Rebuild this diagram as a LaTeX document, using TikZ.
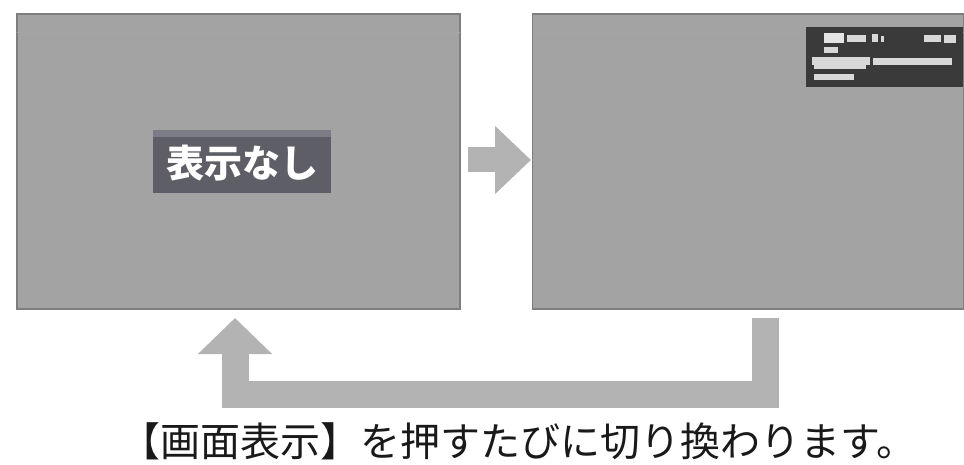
\documentclass[tikz,border=0pt]{standalone}
\usepackage{fontspec}
\setmainfont{Noto Sans CJK JP}
\usetikzlibrary{arrows.meta}
\definecolor{scrfill}{HTML}{A3A3A3}
\definecolor{scrline}{HTML}{7E7E7E}
\definecolor{arrowgray}{HTML}{B3B3B3}
\definecolor{labelbg}{HTML}{5E5E66}
\definecolor{labeltop}{HTML}{7C7C86}
\definecolor{osdbg}{HTML}{3A3A3A}
\definecolor{osdtxt}{HTML}{D8D8D8}
\tikzset{
  screen/.style={draw=scrline, fill=scrfill, line width=1.6pt, inner sep=0pt, outer sep=0pt, rectangle},
  bandline/.style={draw=scrline!70, line width=0.8pt},
  bigarrow/.style={draw=arrowgray, line join=miter, line cap=butt},
  osdbar/.style={fill=osdtxt},
}
\begin{document}
\begin{tikzpicture}[x=1pt,y=-1pt]
\useasboundingbox (0,0) rectangle (964,465);
% screens
\node[screen, minimum width=443pt, minimum height=295pt] (L) at (238.5,161.5) {};
\node[screen, minimum width=431pt, minimum height=295pt] (R) at (748,161.5) {};
\draw[bandline] ([yshift=-18pt]L.north west) -- ([yshift=-18pt]L.north east);
\draw[bandline] ([yshift=-18pt]R.north west) -- ([yshift=-18pt]R.north east);
% label on left screen
\node[fill=labelbg, minimum width=178pt, minimum height=63pt, inner sep=0pt] (lab) at (242,161.5) {};
\fill[labeltop] (lab.north west) rectangle ([yshift=-7pt]lab.north east);
\node[text=white, font=\fontsize{38}{38}\selectfont\bfseries, inner sep=0pt] (labtxt) at (242,163) {表示なし};
% OSD on right screen
\node[fill=osdbg, minimum width=157pt, minimum height=60pt, inner sep=0pt, anchor=north east] (osd) at ([yshift=-13pt]R.north east) {};
\coordinate (o) at (osd.north west);
\begin{scope}[shift={(o)}]
  \fill[osdtxt!70] (18,6) rectangle (38,16);
  \fill[osdbar] (41,8) rectangle (60,15);
  \fill[osdbar] (66,7) rectangle (72,15);
  \fill[osdbar] (75,9) rectangle (78,15);
  \fill[osdbar] (118,8) rectangle (135,15);
  \fill[osdbar] (138,8) rectangle (150,16);
  \fill[osdbar] (18,20) rectangle (32,26);
  \fill[osdbar] (6,30) rectangle (64,38);
  \fill[osdbar] (8,38) rectangle (60,42);
  \fill[osdbar] (67,31) rectangle (146,38);
  \fill[osdbar] (8,47) rectangle (48,53);
\end{scope}
% right arrow
\coordinate (ra1) at (468,160);
\coordinate (ra2) at (531,160);
\draw[bigarrow, line width=25pt, -{Triangle[length=36pt, width=66pt]}] (ra1) -- (ra2);
% loop arrow
\coordinate (la1) at (765,318);
\coordinate (la2) at (765,394);
\coordinate (la3) at (235,394);
\coordinate (la4) at (235,318);
\draw[bigarrow, line width=27pt, -{Triangle[length=36pt, width=72pt]}] (la1) -- (la2) -- (la3) -- (la4);
% caption
\node[font=\fontsize{40}{40}\selectfont, inner sep=0pt, text=black!90] (cap) at (518,441) {【画面表示】を押すたびに切り換わります。};
\end{tikzpicture}
\end{document}
